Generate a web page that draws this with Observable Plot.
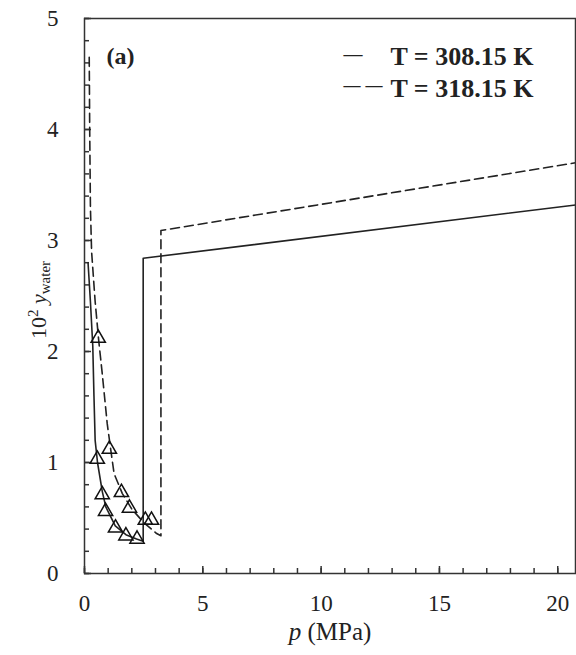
<!DOCTYPE html>
<html><head><meta charset="utf-8">
<script src="https://cdn.jsdelivr.net/npm/d3@7"></script>
<script src="https://cdn.jsdelivr.net/npm/@observablehq/plot@0.6"></script>
<style>
body{margin:0;background:#fff;}
#chart{position:relative;width:576px;height:655px;}
svg{font-family:"Liberation Serif","Times New Roman",serif;}
</style></head><body><div id="chart"></div>
<script>
// Model curve, T = 308.15 K (solid)
const p308Line = [0.15, 0.25, 0.35, 0.40, 0.45, 0.55, 0.75, 0.90, 1.30, 1.75, 2.20, 2.48, 2.48, 20.75];
const y308Line = [2.80, 2.45, 2.05, 1.60, 1.20, 1.00, 0.74, 0.60, 0.43, 0.35, 0.31, 0.29, 2.84, 3.32];
// Model curve, T = 318.15 K (dashed)
const p318Line = [0.20, 0.22, 0.25, 0.30, 0.45, 0.60, 0.75, 0.96, 1.10, 1.25, 1.60, 2.00, 2.50, 3.05, 3.23, 3.23, 20.75];
const y318Line = [4.65, 4.00, 3.30, 2.90, 2.45, 2.10, 1.80, 1.35, 1.13, 0.90, 0.72, 0.58, 0.46, 0.36, 0.34, 3.09, 3.70];
// Experimental points (triangles)
const p308Pts = [0.54, 0.75, 0.89, 1.31, 1.75, 2.22];
const y308Pts = [1.03, 0.71, 0.56, 0.41, 0.34, 0.31];
const p318Pts = [0.58, 1.05, 1.56, 1.90, 2.57, 2.83];
const y318Pts = [2.12, 1.12, 0.73, 0.59, 0.48, 0.48];
// Axes
const xMajor = [0, 5, 10, 15, 20];
const xMinor = d3.range(0, 21, 1);
const yMajor = [0, 1, 2, 3, 4, 5];
const yMinor = d3.range(0, 5.01, 0.2).map(v => +v.toFixed(1));
const seriesLabels = ["T = 308.15 K", "T = 318.15 K"];
const panelLabel = "(a)";

const line308 = p308Line.map((p, i) => ({p, y: y308Line[i]}));
const line318 = p318Line.map((p, i) => ({p, y: y318Line[i]}));
const pts308 = p308Pts.map((p, i) => ({p, y: y308Pts[i]}));
const pts318 = p318Pts.map((p, i) => ({p, y: y318Pts[i]}));

const ink = "#222";
const fontFam = '"Liberation Serif","Times New Roman",serif';
const W = 576, H = 655, mT = 18, mB = 82, mL = 84, mR = 1;
const frameW = W - mL - mR, frameH = H - mT - mB;
const xDomain = [0, 20.75], yDomain = [0, 5];
// tick lengths (pixels) expressed in data units
const pxX = (xDomain[1] - xDomain[0]) / frameW;
const pxY = (yDomain[1] - yDomain[0]) / frameH;

const chart = Plot.plot({
  width: W,
  height: H,
  marginTop: mT,
  marginBottom: mB,
  marginLeft: mL,
  marginRight: mR,
  style: {fontFamily: fontFam, background: "#fff", color: ink},
  x: {domain: xDomain},
  y: {domain: yDomain},
  marks: [
    // inward ticks
    Plot.ruleX(xMinor, {y1: 0, y2: 5 * pxY, stroke: "#333", strokeWidth: 1.5}),
    Plot.ruleX(xMajor, {y1: 0, y2: 7 * pxY, stroke: "#333", strokeWidth: 1.5}),
    Plot.ruleY(yMinor, {x1: 0, x2: 5 * pxX, stroke: "#333", strokeWidth: 1.5}),
    Plot.ruleY(yMajor, {x1: 0, x2: 7 * pxX, stroke: "#333", strokeWidth: 1.5}),
    Plot.axisX({ticks: xMajor, tickSize: 0, tickPadding: 21, label: null, fontSize: 23, fill: ink, tickFormat: d3.format("d")}),
    Plot.axisY({ticks: yMajor, tickSize: 0, tickPadding: 26, label: null, fontSize: 23, fill: ink, tickFormat: d3.format("d")}),
    Plot.line(line308, {x: "p", y: "y", stroke: ink, strokeWidth: 1.6}),
    Plot.line(line318, {x: "p", y: "y", stroke: ink, strokeWidth: 1.6, strokeDasharray: "9,5"}),
    Plot.dot(pts308, {x: "p", y: "y", symbol: "triangle", r: 5.3, stroke: "#111", strokeWidth: 1.5, fill: "none"}),
    Plot.dot(pts318, {x: "p", y: "y", symbol: "triangle", r: 5.3, stroke: "#111", strokeWidth: 1.5, fill: "none"}),
    Plot.frame({stroke: "#333", strokeWidth: 1.5}),
    Plot.text([panelLabel], {frameAnchor: "top-left", dx: 22, dy: 28, textAnchor: "start", fontSize: 24, fontWeight: "bold", fill: ink}),
    Plot.text(["\u2014"], {frameAnchor: "top-left", dx: 259, dy: 28, textAnchor: "start", fontSize: 19, fontWeight: "bold", fill: ink}),
    Plot.text(["\u2014"], {frameAnchor: "top-left", dx: 259, dy: 60, textAnchor: "start", fontSize: 17, fontWeight: "bold", fill: ink}),
    Plot.text(["\u2014"], {frameAnchor: "top-left", dx: 281, dy: 60, textAnchor: "start", fontSize: 17, fontWeight: "bold", fill: ink}),
    Plot.text([seriesLabels[0]], {frameAnchor: "top-left", dx: 306, dy: 28, textAnchor: "start", fontSize: 26, fontWeight: "bold", fill: ink}),
    Plot.text([seriesLabels[1]], {frameAnchor: "top-left", dx: 306, dy: 60, textAnchor: "start", fontSize: 26, fontWeight: "bold", fill: ink})
  ]
});
document.getElementById("chart").appendChild(chart);

const svg = d3.select(chart);
// x-axis title
const xl = svg.append("text")
  .attr("x", 330).attr("y", 640)
  .attr("text-anchor", "middle")
  .attr("font-size", 25).attr("fill", ink).attr("font-family", fontFam);
xl.append("tspan").attr("font-style", "italic").text("p");
xl.append("tspan").text(" (MPa)");
// y-axis title
const yl = svg.append("text")
  .attr("transform", "translate(46,300) rotate(-90)")
  .attr("text-anchor", "middle")
  .attr("font-size", 22).attr("fill", ink).attr("font-family", fontFam);
yl.append("tspan").text("10");
yl.append("tspan").attr("font-size", 15).attr("dy", "-0.55em").text("2");
yl.append("tspan").attr("dy", "0.37em").text(" ");
yl.append("tspan").attr("font-style", "italic").text("y");
yl.append("tspan").attr("font-size", 15).attr("dy", "0.3em").text("water");
</script></body></html>
